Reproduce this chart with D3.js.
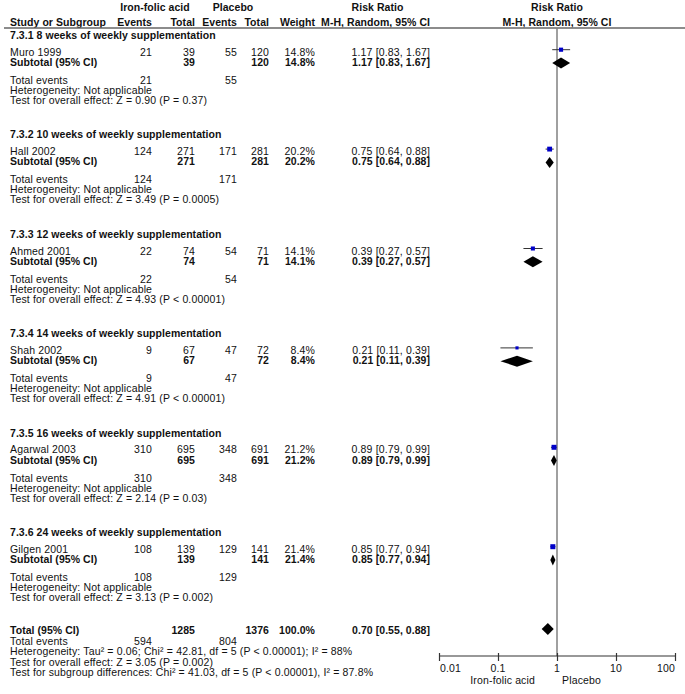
<!DOCTYPE html>
<html>
<head>
<meta charset="utf-8">
<script src="https://cdn.jsdelivr.net/npm/d3@7"></script>
<style>
  html, body { margin: 0; padding: 0; background: #fff; }
  svg text { font-family: "Liberation Sans", Arial, sans-serif; font-size: 10.5px; letter-spacing: 0.15px; fill: #111; }
  .b { font-weight: bold; letter-spacing: 0.05px; }
</style>
</head>
<body>
<svg id="chart" width="685" height="694"></svg>
<script>
// ---- data ----
const subgroups = [
  "7.3.1 8 weeks of weekly supplementation",
  "7.3.2 10 weeks of weekly supplementation",
  "7.3.3 12 weeks of weekly supplementation",
  "7.3.4 14 weeks of weekly supplementation",
  "7.3.5 16 weeks of weekly supplementation",
  "7.3.6 24 weeks of weekly supplementation"
];
const studies = ["Muro 1999", "Hall 2002", "Ahmed 2001", "Shah 2002", "Agarwal 2003", "Gilgen 2001"];
const ironEvents = [21, 124, 22, 9, 310, 108];
const ironTotal = [39, 271, 74, 67, 695, 139];
const placeboEvents = [55, 171, 54, 47, 348, 129];
const placeboTotal = [120, 281, 71, 72, 691, 141];
const weights = [14.8, 20.2, 14.1, 8.4, 21.2, 21.4];
const rr = [1.17, 0.75, 0.39, 0.21, 0.89, 0.85];
const rrLow = [0.83, 0.64, 0.27, 0.11, 0.79, 0.77];
const rrHigh = [1.67, 0.88, 0.57, 0.39, 0.99, 0.94];
const effectTests = [
  "Test for overall effect: Z = 0.90 (P = 0.37)",
  "Test for overall effect: Z = 3.49 (P = 0.0005)",
  "Test for overall effect: Z = 4.93 (P < 0.00001)",
  "Test for overall effect: Z = 4.91 (P < 0.00001)",
  "Test for overall effect: Z = 2.14 (P = 0.03)",
  "Test for overall effect: Z = 3.13 (P = 0.002)"
];
const totalIronEvents = 594, totalIronN = 1285, totalPlaceboEvents = 804, totalPlaceboN = 1376;
const totalRR = [0.70, 0.55, 0.88];
const totalWeight = "100.0%";
const totalLines = [
  "Heterogeneity: Tau\u00B2 = 0.06; Chi\u00B2 = 42.81, df = 5 (P < 0.00001); I\u00B2 = 88%",
  "Test for overall effect: Z = 3.05 (P = 0.002)",
  "Test for subgroup differences: Chi\u00B2 = 41.03, df = 5 (P < 0.00001), I\u00B2 = 87.8%"
];
const tickValues = [0.01, 0.1, 1, 10, 100];
const tickLabels = ["0.01", "0.1", "1", "10", "100"];
const favourLabels = ["Iron-folic acid", "Placebo"];

// ---- layout ----
const svg = d3.select("#chart");
const f2 = d3.format(".2f");
const ciText = (m, l, h) => `${f2(m)} [${f2(l)}, ${f2(h)}]`;

const col = { study: 10, ie: 152, it: 195, pe: 237, pt: 269, w: 315, rr: 430 };
const x = d3.scaleLog().domain([0.01, 100]).range([439, 675]);
const sizeScale = d3.scaleSqrt().domain([0, 25]).range([0, 5.4]);

function txt(xp, yc, s, opts = {}) {
  return svg.append("text")
    .attr("x", xp).attr("y", yc + 4)
    .attr("text-anchor", opts.anchor || "start")
    .attr("class", opts.bold ? "b" : null)
    .text(s);
}

// header
txt(155, 7, "Iron-folic acid", { anchor: "middle", bold: true });
txt(233, 7, "Placebo", { anchor: "middle", bold: true });
txt(col.study, 22, "Study or Subgroup", { bold: true });
txt(col.ie, 22, "Events", { anchor: "end", bold: true });
txt(col.it, 22, "Total", { anchor: "end", bold: true });
txt(col.pe, 22, "Events", { anchor: "end", bold: true });
txt(col.pt, 22, "Total", { anchor: "end", bold: true });
txt(col.w, 22, "Weight", { anchor: "end", bold: true });
txt(377.5, 7, "Risk Ratio", { anchor: "middle", bold: true });
txt(col.rr, 22, "M-H, Random, 95% CI", { anchor: "end", bold: true });
txt(x(1), 7, "Risk Ratio", { anchor: "middle", bold: true });
txt(x(1), 22, "M-H, Random, 95% CI", { anchor: "middle", bold: true });

svg.append("line").attr("x1", 4).attr("x2", 685).attr("y1", 28).attr("y2", 28)
  .attr("stroke", "#666").attr("stroke-width", 1.5);

// null line
const axisY = 656;
svg.append("line").attr("x1", x(1)).attr("x2", x(1)).attr("y1", 28).attr("y2", axisY)
  .attr("stroke", "#808080").attr("stroke-width", 1.5);

const diamond = (m, l, h, yc, hh) =>
  `M${x(l)},${yc} L${x(m)},${yc - hh} L${x(h)},${yc} L${x(m)},${yc + hh} Z`;

// subgroups
subgroups.forEach((name, i) => {
  const b = 35 + 99.4 * i;
  const yS = b + 16.7, ySub = b + 27, yTE = b + 45, yH = b + 55, yT = b + 65;
  txt(col.study, b, name, { bold: true });
  // study row
  txt(col.study, yS, studies[i]);
  txt(col.ie, yS, ironEvents[i], { anchor: "end" });
  txt(col.it, yS, ironTotal[i], { anchor: "end" });
  txt(col.pe, yS, placeboEvents[i], { anchor: "end" });
  txt(col.pt, yS, placeboTotal[i], { anchor: "end" });
  txt(col.w, yS, weights[i].toFixed(1) + "%", { anchor: "end" });
  txt(col.rr, yS, ciText(rr[i], rrLow[i], rrHigh[i]), { anchor: "end" });
  // subtotal row
  txt(col.study, ySub, "Subtotal (95% CI)", { bold: true });
  txt(col.it, ySub, ironTotal[i], { anchor: "end", bold: true });
  txt(col.pt, ySub, placeboTotal[i], { anchor: "end", bold: true });
  txt(col.w, ySub, weights[i].toFixed(1) + "%", { anchor: "end", bold: true });
  txt(col.rr, ySub, ciText(rr[i], rrLow[i], rrHigh[i]), { anchor: "end", bold: true });
  // other rows
  txt(col.study, yTE, "Total events");
  txt(col.ie, yTE, ironEvents[i], { anchor: "end" });
  txt(col.pe, yTE, placeboEvents[i], { anchor: "end" });
  txt(col.study, yH, "Heterogeneity: Not applicable");
  txt(col.study, yT, effectTests[i]);

  // plot marks
  const my = yS - 2;
  svg.append("line").attr("x1", x(rrLow[i])).attr("x2", x(rrHigh[i]))
    .attr("y1", my).attr("y2", my).attr("stroke", "#333").attr("stroke-width", 1);
  const s = sizeScale(weights[i]);
  svg.append("rect").attr("x", x(rr[i]) - s / 2).attr("y", my - s / 2)
    .attr("width", s).attr("height", s).attr("fill", "#0000c8");
  svg.append("path").attr("d", diamond(rr[i], rrLow[i], rrHigh[i], ySub + 1, 5.5)).attr("fill", "#000");
});

// total section
const yTot = 630;
txt(col.study, yTot, "Total (95% CI)", { bold: true });
txt(col.it, yTot, totalIronN, { anchor: "end", bold: true });
txt(col.pt, yTot, totalPlaceboN, { anchor: "end", bold: true });
txt(col.w, yTot, totalWeight, { anchor: "end", bold: true });
txt(col.rr, yTot, ciText(totalRR[0], totalRR[1], totalRR[2]), { anchor: "end", bold: true });
svg.append("path").attr("d", diamond(totalRR[0], totalRR[1], totalRR[2], yTot - 1, 6)).attr("fill", "#000");
txt(col.study, yTot + 10.5, "Total events");
txt(col.ie, yTot + 10.5, totalIronEvents, { anchor: "end" });
txt(col.pe, yTot + 10.5, totalPlaceboEvents, { anchor: "end" });
totalLines.forEach((s, k) => txt(col.study, yTot + 21 + 10.5 * k, s));

// axis
svg.append("line").attr("x1", x.range()[0]).attr("x2", x.range()[1])
  .attr("y1", axisY).attr("y2", axisY).attr("stroke", "#333").attr("stroke-width", 1.2);
const ax = svg.append("g").attr("transform", `translate(0,${axisY - 3})`)
  .call(d3.axisBottom(x).tickValues(tickValues).tickSize(8).tickFormat(() => ""));
ax.select(".domain").remove();
ax.selectAll(".tick line").attr("stroke", "#333").attr("stroke-width", 1.2);
tickValues.forEach((v, k) => {
  const anchor = k === 0 ? "start" : (k === tickValues.length - 1 ? "end" : "middle");
  txt(x(v) + (k === 0 ? 1 : 0), 668, tickLabels[k], { anchor });
});
txt(x(1) - 22, 680, favourLabels[0], { anchor: "end" });
txt(x(1) + 5, 680, favourLabels[1]);
</script>
</body>
</html>
